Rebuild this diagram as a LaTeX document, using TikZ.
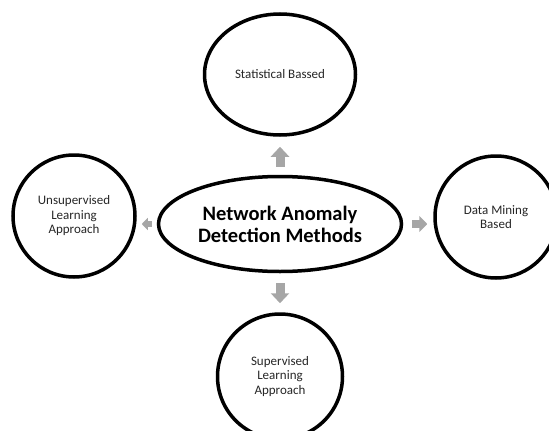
\documentclass[tikz,border=0pt]{standalone}
\usepackage{fontspec}
\setmainfont{Carlito}
\usetikzlibrary{positioning,arrows.meta,shapes.geometric}

\begin{document}
\begin{tikzpicture}[
x=1pt,y=-1pt,
every node/.style={draw,line width=3.5pt,align=center,text=black!85},
bubble/.style={circle,minimum size=122pt,font=\fontsize{13}{14.5}\selectfont},
oval/.style={ellipse,inner sep=0pt},
fat/.style={draw=black!35,line width=9pt,-{Triangle[length=10pt,width=18pt]}}]
\useasboundingbox (0,0) rectangle (549,431);
\clip (0,0) rectangle (549,431);
\node (core) [oval,minimum width=243pt,minimum height=95pt,text=black,font=\fontsize{20.5}{22}\selectfont\bfseries] at (280,224) {Network Anomaly\\Detection Methods};
\node (stat) [oval,minimum width=151pt,minimum height=121pt,font=\fontsize{13}{14.5}\selectfont,above=38pt of core] {Statistical Bassed};
\node (unsup) [bubble,left=20pt of core,yshift=8pt] {Unsupervised\\Learning\\Approach};
\node (mining) [bubble,right=30pt of core,yshift=7pt] {Data Mining\\Based};
\node (sup) [bubble,minimum size=125pt,below=39pt of core] {Supervised\\Learning\\Approach};
\draw[fat,shorten <=8pt,shorten >=10pt] (core) -- (stat);
\draw[fat,shorten <=10pt,shorten >=9pt] (core) -- (sup);
\draw[fat,line width=6pt,-{Triangle[length=6pt,width=12pt]},shorten <=5pt,shorten >=5pt] (core.west) -- (core.west -| unsup.east);
\draw[fat,line width=8pt,-{Triangle[length=8pt,width=16pt]},shorten <=9pt,shorten >=6pt] (core.east) -- (core.east -| mining.west);
\end{tikzpicture}
\end{document}
